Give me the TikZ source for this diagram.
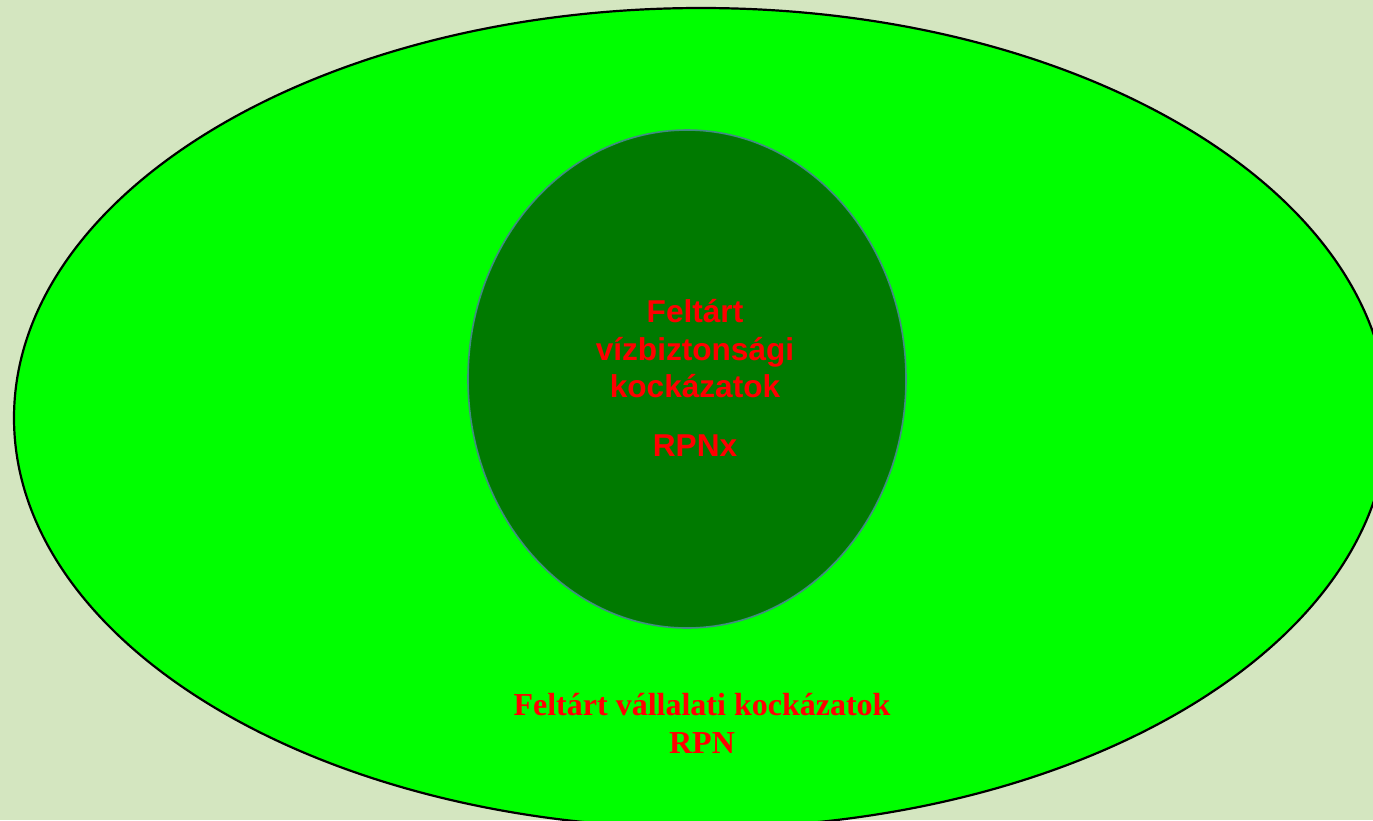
\documentclass[tikz,border=0pt]{standalone}
\usepackage{fontspec}
\setmainfont{Liberation Serif}
\newfontfamily\arialfont{Liberation Sans}
\usetikzlibrary{shapes.geometric}
\definecolor{bgcol}{RGB}{212,230,192}
\definecolor{outerfill}{RGB}{0,255,0}
\definecolor{innerfill}{RGB}{0,122,0}
\definecolor{innerline}{RGB}{64,140,130}
\definecolor{txtred}{RGB}{255,0,0}
\tikzset{
  innertxt/.style={anchor=base, text=txtred, inner sep=0pt, font=\arialfont\bfseries\fontsize{31.6}{37.5}\selectfont},
  outertxt/.style={anchor=base, text=txtred, inner sep=0pt, font=\bfseries\fontsize{32}{38}\selectfont},
}
\begin{document}
\begin{tikzpicture}[x=1pt,y=-1pt]
\useasboundingbox (0,0) rectangle (1373,820);
\clip (0,0) rectangle (1373,820);
\fill[bgcol] (0,0) rectangle (1373,820);
\node[ellipse, draw=black, line width=2.2pt, fill=outerfill, inner sep=0pt,
      minimum width=1374pt, minimum height=820pt] (outer) at (701,418) {};
\node[ellipse, draw=innerline, line width=1.6pt, fill=innerfill, inner sep=0pt,
      minimum width=438pt, minimum height=498pt] (inner) at (687,379) {};
\node[innertxt] (w1) at (695,322) {Feltárt};
\node[innertxt] (w2) at (695,360) {vízbiztonsági};
\node[innertxt] (w3) at (695,397) {kockázatok};
\node[innertxt] (w4) at (695,456) {RPNx};
\node[outertxt] (v1) at (702,715) {Feltárt vállalati kockázatok};
\node[outertxt] (v2) at (702,753) {RPN};
\end{tikzpicture}
\end{document}
